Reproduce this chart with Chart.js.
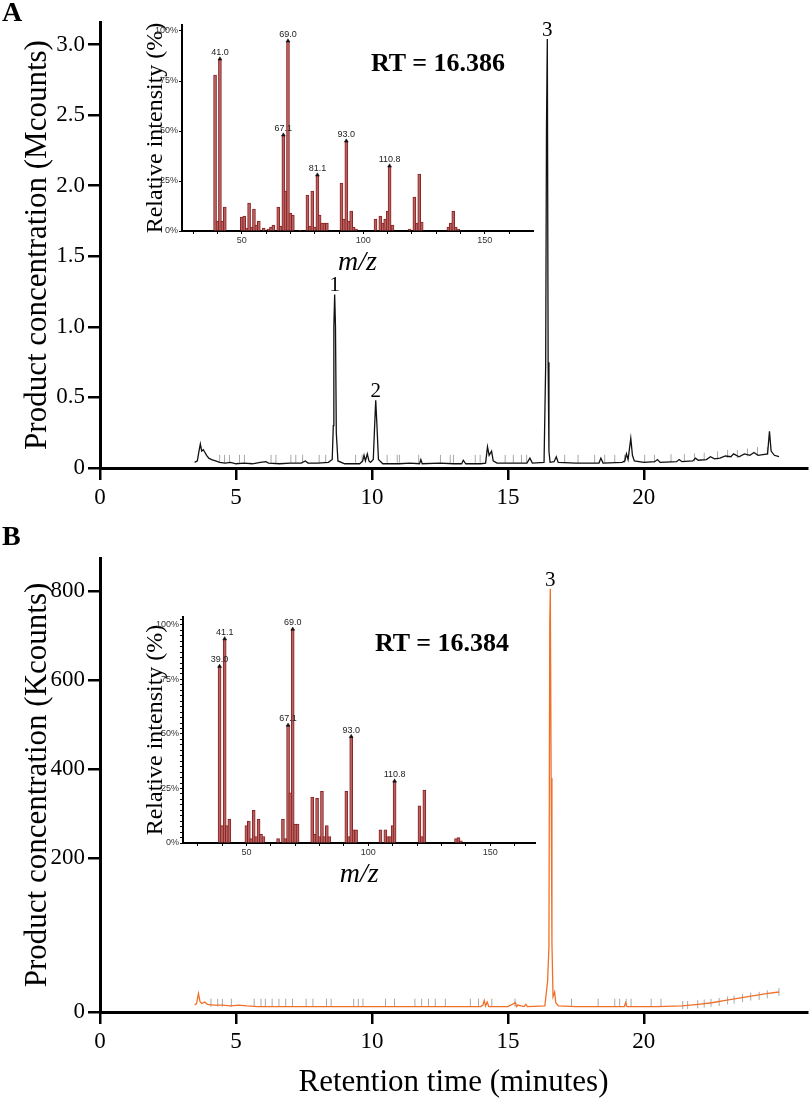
<!DOCTYPE html>
<html>
<head>
<meta charset="utf-8">
<script src="https://cdn.jsdelivr.net/npm/chart.js@4.4.1/dist/chart.umd.min.js"></script>
<style>
  body { margin: 0; background: #fff; }
  #fig { position: relative; width: 812px; height: 1104px; overflow: hidden; background: #fff; }
  #fig canvas { position: absolute; }
  .txt { position: absolute; font-family: "Liberation Serif", "Times New Roman", serif; color: #000; line-height: 1; white-space: nowrap; }
</style>
</head>
<body>
<div id="fig">
  <canvas id="mainA" width="812" height="520" style="left:0;top:0"></canvas>
  <canvas id="mainB" width="812" height="584" style="left:0;top:520px"></canvas>
  <canvas id="insetA" width="430" height="285" style="left:110px;top:0"></canvas>
  <canvas id="insetB" width="430" height="310" style="left:110px;top:590px"></canvas>
  <div class="txt" style="left:2px;top:-2px;font-size:28px;font-weight:bold">A</div>
  <div class="txt" style="left:2px;top:522px;font-size:28px;font-weight:bold">B</div>
  <div class="txt" style="left:371px;top:50px;font-size:26px;font-weight:bold">RT = 16.386</div>
  <div class="txt" style="left:375px;top:630px;font-size:26px;font-weight:bold">RT = 16.384</div>
</div>
<script>
// ---- chromatogram A (Mcounts) ----
const retTimeA = [3.48, 3.58, 3.64, 3.69, 3.74, 3.80, 3.86, 3.92, 4.00, 4.10, 4.25, 4.40, 4.60, 4.80, 5.00, 5.30, 5.60, 5.90, 6.10, 6.20, 6.60, 7.00, 7.40, 7.55, 7.65, 8.00, 8.40, 8.54, 8.58, 8.60, 8.63, 8.66, 8.69, 8.75, 9.00, 9.55, 9.66, 9.71, 9.76, 9.83, 9.89, 9.95, 10.05, 10.10, 10.14, 10.18, 10.24, 10.40, 11.00, 11.40, 11.75, 11.80, 11.85, 12.50, 13.00, 13.30, 13.36, 13.45, 14.00, 14.18, 14.25, 14.31, 14.40, 14.46, 14.60, 15.00, 15.70, 15.81, 15.90, 16.33, 16.39, 16.42, 16.45, 16.48, 16.51, 16.55, 16.70, 16.78, 16.85, 17.50, 18.35, 18.42, 18.50, 19.20, 19.30, 19.36, 19.42, 19.52, 19.58, 19.65, 20.00, 20.40, 20.50, 20.60, 21.20, 21.30, 21.40, 21.80, 21.90, 22.00, 22.30, 22.45, 22.60, 22.80, 23.00, 23.20, 23.30, 23.50, 23.70, 23.90, 24.05, 24.20, 24.55, 24.62, 24.68, 24.80, 24.97];
const mcountsA = [0.04, 0.05, 0.12, 0.17, 0.12, 0.13, 0.11, 0.09, 0.07, 0.06, 0.05, 0.04, 0.035, 0.04, 0.03, 0.035, 0.03, 0.04, 0.045, 0.035, 0.03, 0.035, 0.035, 0.05, 0.035, 0.035, 0.04, 0.06, 0.3, 1.0, 1.23, 1.0, 0.25, 0.05, 0.03, 0.03, 0.05, 0.09, 0.05, 0.1, 0.05, 0.04, 0.06, 0.3, 0.48, 0.32, 0.06, 0.03, 0.03, 0.035, 0.03, 0.06, 0.03, 0.035, 0.03, 0.03, 0.055, 0.03, 0.03, 0.035, 0.15, 0.09, 0.12, 0.05, 0.035, 0.035, 0.035, 0.07, 0.035, 0.04, 0.73, 2.42, 3.04, 0.75, 0.12, 0.04, 0.045, 0.08, 0.04, 0.035, 0.035, 0.07, 0.035, 0.04, 0.05, 0.1, 0.06, 0.21, 0.09, 0.05, 0.04, 0.045, 0.06, 0.04, 0.045, 0.06, 0.045, 0.05, 0.07, 0.055, 0.06, 0.08, 0.065, 0.07, 0.085, 0.08, 0.1, 0.08, 0.1, 0.09, 0.11, 0.09, 0.1, 0.26, 0.12, 0.09, 0.08, 0.08];
const markTimeA = [4.40, 4.58, 4.76, 5.13, 5.31, 6.29, 6.47, 7.02, 7.20, 7.45, 8.06, 8.30, 9.40, 9.64, 10.56, 10.93, 11.01, 11.72, 12.52, 12.88, 13.00, 13.80, 13.98, 14.90, 15.20, 15.50, 15.69, 17.09, 17.58, 18.19, 18.56, 18.93, 19.29, 20.03, 20.39, 21.00, 21.49, 21.86, 22.22, 22.71, 23.08, 23.44, 23.81, 24.18, 24.54];
const markLevelA = [0.065, 0.065, 0.065, 0.065, 0.065, 0.065, 0.065, 0.065, 0.065, 0.065, 0.065, 0.065, 0.065, 0.065, 0.065, 0.065, 0.065, 0.065, 0.065, 0.065, 0.065, 0.065, 0.065, 0.065, 0.065, 0.065, 0.065, 0.065, 0.065, 0.065, 0.065, 0.065, 0.065, 0.065, 0.065, 0.07, 0.07, 0.075, 0.08, 0.09, 0.1, 0.1, 0.11, 0.12, 0.12];
const peakTimeA = [8.63, 10.14, 16.45];
const peakTopA = [1.23, 0.48, 3.04];
const peakNameA = ["1", "2", "3"];

// ---- chromatogram B (Kcounts) ----
const retTimeB = [3.48, 3.55, 3.62, 3.68, 3.75, 3.85, 3.95, 4.20, 4.50, 4.80, 5.10, 5.40, 5.80, 6.50, 7.50, 8.50, 9.50, 10.50, 11.50, 12.50, 13.50, 14.00, 14.08, 14.13, 14.18, 14.24, 14.30, 15.00, 15.28, 15.32, 15.36, 15.60, 15.66, 15.72, 16.36, 16.46, 16.51, 16.54, 16.56, 16.59, 16.62, 16.66, 16.72, 16.76, 16.86, 17.50, 18.50, 19.28, 19.33, 19.38, 20.50, 21.40, 22.00, 22.50, 23.00, 23.50, 24.00, 24.50, 24.97];
const kcountsB = [9, 11, 24, 13, 11, 13, 10, 9, 9, 8, 9, 8, 7, 7, 7, 7, 7, 7, 7, 7, 7, 7, 9, 15, 8, 13, 7, 7, 12, 7, 9, 7, 10, 7, 8, 40, 84, 728, 805, 380, 90, 20, 26, 12, 8, 7, 7, 7, 12, 7, 7, 8, 10, 12, 15, 18, 21, 24, 26];
const markTimeB = [4.08, 4.33, 4.50, 4.83, 5.67, 5.92, 6.08, 6.33, 6.58, 6.83, 7.08, 7.58, 7.83, 8.33, 8.50, 9.33, 9.50, 9.67, 10.50, 10.83, 11.58, 11.83, 12.08, 12.33, 12.70, 13.62, 13.92, 14.41, 15.26, 17.34, 18.32, 18.93, 19.11, 19.35, 19.53, 20.27, 20.63, 21.43, 21.61, 21.98, 22.22, 22.47, 22.77, 23.08, 23.32, 23.63, 23.93, 24.24, 24.54, 24.97];
const markLevelB = [12, 12, 12, 12, 12, 12, 12, 12, 12, 12, 12, 12, 12, 12, 12, 12, 12, 12, 12, 12, 12, 12, 12, 12, 12, 12, 12, 12, 12, 12, 12, 12, 12, 12, 12, 12, 12, 9, 9, 10, 11, 12, 13, 15, 16, 18, 20, 21, 23, 26];
const peakTimeB = [16.56];
const peakTopB = [805];
const peakNameB = ["3"];

// ---- mass spectra (relative intensity %) ----
const mzA = [39, 40, 41, 42, 43, 50, 51, 52, 53, 54, 55, 56, 57, 59, 61, 62, 63, 65, 66, 67.1, 68, 69, 70, 71, 74, 77, 78, 79, 80, 81.1, 82, 83, 84, 85, 91, 92, 93, 94, 95, 96, 97, 105, 107, 108, 109, 110, 110.8, 112, 119, 121, 122, 123, 124, 135, 136, 137, 138, 139];
const pctA = [78, 5, 86, 5, 12, 7, 7.5, 1.5, 14, 2, 11, 3, 5, 1.5, 1, 2, 3, 12, 2.5, 48, 20, 95, 9, 8, 0.5, 18, 2.5, 20, 2, 28, 8, 4, 4, 4, 24, 6, 45, 5, 10, 2, 1, 6, 7.5, 4, 6, 10, 32.5, 3, 1, 17, 4, 28.5, 4.5, 2, 4, 10, 2, 1];
const tagMzA = [41.0, 67.1, 69.0, 81.1, 93.0, 110.8];
const tagPctA = [86, 48, 95, 28, 45, 32.5];
const tagTextA = ["41.0", "67.1", "69.0", "81.1", "93.0", "110.8"];

const mzB = [39, 40, 41.1, 42, 43, 50, 51, 52, 53, 54, 55, 56, 57, 63, 65, 66, 67.1, 68, 69, 70, 71, 77, 78, 79, 80, 81, 82, 83, 84, 91, 92, 93, 94, 95, 105, 107, 108, 109, 110, 110.8, 121, 122, 123, 136, 137, 138];
const pctB = [81, 8, 93.6, 8, 11, 8, 10, 2, 15, 3, 11, 4, 3, 2, 11, 2, 54, 23, 98, 8.7, 8.7, 21, 4, 20.5, 3, 23.7, 3, 8, 3, 23.7, 3, 48.8, 6, 6, 6, 6, 3, 3, 8, 28.4, 17, 3, 24.3, 2, 2.5, 1];
const tagMzB = [39.0, 41.1, 67.1, 69.0, 93.0, 110.8];
const tagPctB = [81, 93.6, 54, 98, 48.8, 28.4];
const tagTextB = ["39.0", "41.1", "67.1", "69.0", "93.0", "110.8"];

// ---- axes ----
const timeTicks = [0, 5, 10, 15, 20];
const mcountTicks = [0, 0.5, 1.0, 1.5, 2.0, 2.5, 3.0];
const kcountTicks = [0, 200, 400, 600, 800];
const mzLabels = [50, 100, 150];
const pctLabels = [0, 25, 50, 75, 100];

const SERIF = "'Liberation Serif', 'Times New Roman', serif";
const SANS = "'Liberation Sans', Arial, sans-serif";

// B's y axis is drawn with a longer 0-200 segment than the rest
const kBreak = 200;
const kBreakFrac = 0.339;

class BrokenLinearScale extends Chart.LinearScale {
  toDecimal(v) {
    if (v <= kBreak) return (v - this.min) / (kBreak - this.min) * kBreakFrac;
    return kBreakFrac + (v - kBreak) / (this.max - kBreak) * (1 - kBreakFrac);
  }
  getPixelForValue(v) {
    return v === null ? NaN : this.getPixelForDecimal(this.toDecimal(v));
  }
  getValueForPixel(p) {
    const d = this.getDecimalForPixel(p);
    if (d <= kBreakFrac) return this.min + d / kBreakFrac * (kBreak - this.min);
    return kBreak + (d - kBreakFrac) / (1 - kBreakFrac) * (this.max - kBreak);
  }
}
BrokenLinearScale.id = "brokenLinear";
BrokenLinearScale.defaults = {};
Chart.register(BrokenLinearScale);

function points(xs, ys) {
  return xs.map((x, i) => ({ x: x, y: ys[i] }));
}

// text above given data points, drawn through the chart's scales
function notesPlugin(xs, ys, texts, font, color, gap) {
  return {
    id: "notes",
    afterDatasetsDraw(chart) {
      const { ctx, scales } = chart;
      ctx.save();
      ctx.font = font;
      ctx.fillStyle = color;
      ctx.textAlign = "center";
      ctx.textBaseline = "alphabetic";
      xs.forEach((xv, i) => {
        ctx.fillText(texts[i], scales.x.getPixelForValue(xv), scales.y.getPixelForValue(ys[i]) - gap);
      });
      ctx.restore();
    }
  };
}

function fixedTicks(values) {
  return scale => { scale.ticks = values.map(v => ({ value: v })); };
}

function mainChart(canvasId, opts) {
  return new Chart(document.getElementById(canvasId), {
    type: "line",
    data: {
      datasets: [
        {
          data: points(opts.times, opts.values),
          borderColor: opts.color,
          borderWidth: 1.3,
          pointRadius: 0,
          tension: 0,
          order: 1
        },
        {
          data: points(opts.markTimes, opts.markLevels),
          showLine: false,
          pointStyle: "line",
          pointRotation: 90,
          pointRadius: opts.markRadius,
          pointBorderColor: "#a8a8a8",
          pointBorderWidth: 1,
          order: 2
        }
      ]
    },
    options: {
      responsive: false,
      animation: false,
      devicePixelRatio: 1,
      events: [],
      layout: { padding: { top: opts.padTop, right: 2, left: 0, bottom: 0 } },
      plugins: { legend: { display: false }, tooltip: { enabled: false } },
      scales: {
        x: {
          type: "linear",
          min: 0,
          max: 26.0,
          afterBuildTicks: fixedTicks(timeTicks),
          afterFit: s => { s.height = opts.xAxisHeight; },
          border: { display: true, color: "#000", width: 3 },
          grid: { drawOnChartArea: false, tickLength: 12, color: "#000", lineWidth: 2.5 },
          ticks: { color: "#000", padding: 4, maxRotation: 0, font: { family: SERIF, size: 23 } },
          title: {
            display: !!opts.xTitle,
            text: opts.xTitle || "",
            color: "#000",
            font: { family: SERIF, size: 31 },
            padding: { top: 0, bottom: 3 }
          }
        },
        y: {
          type: opts.yType,
          min: 0,
          max: opts.yMax,
          afterBuildTicks: fixedTicks(opts.yTicks),
          afterFit: s => { s.width = 100; },
          border: { display: true, color: "#000", width: 3 },
          grid: { drawOnChartArea: false, tickLength: 12, color: "#000", lineWidth: 2.5 },
          ticks: {
            color: "#000",
            padding: 3,
            font: { family: SERIF, size: 23 },
            callback: opts.yLabel
          },
          title: {
            display: true,
            text: opts.yTitle,
            color: "#000",
            font: { family: SERIF, size: 31 },
            padding: { top: 19, bottom: 0 }
          }
        }
      }
    },
    plugins: [notesPlugin(opts.peakTimes, opts.peakTops, opts.peakNames, "21px " + SERIF, "#000", 3)]
  });
}

function insetChart(canvasId, opts) {
  return new Chart(document.getElementById(canvasId), {
    type: "bar",
    data: {
      datasets: [
        {
          type: "bar",
          data: points(opts.mz, opts.pct),
          barThickness: 3,
          backgroundColor: "#b76262",
          borderColor: "#8c2323",
          borderWidth: 1,
          borderSkipped: "start",
          order: 2
        },
        {
          type: "line",
          data: points(opts.tagMz, opts.tagPct),
          showLine: false,
          pointStyle: "triangle",
          pointRadius: 2.2,
          pointBackgroundColor: "#111",
          pointBorderColor: "#111",
          pointBorderWidth: 0.5,
          order: 1
        }
      ]
    },
    options: {
      responsive: false,
      animation: false,
      devicePixelRatio: 1,
      events: [],
      layout: { padding: { top: opts.padTop, right: opts.padRight, left: 0, bottom: 0 } },
      plugins: { legend: { display: false }, tooltip: { enabled: false } },
      scales: {
        x: {
          type: "linear",
          offset: false,
          min: opts.mzMin,
          max: opts.mzMax,
          afterFit: s => { s.height = opts.xAxisHeight; },
          border: { display: true, color: "#000", width: 2 },
          grid: { offset: false, drawOnChartArea: false, tickLength: 3, color: "#000", lineWidth: 1 },
          ticks: {
            stepSize: 10,
            includeBounds: false,
            autoSkip: false,
            maxRotation: 0,
            padding: 1,
            color: "#333",
            font: { family: SANS, size: 9 },
            callback: v => (mzLabels.includes(v) ? String(v) : "")
          },
          title: {
            display: true,
            text: "m/z",
            color: "#000",
            font: { family: SERIF, size: 28, style: "italic" },
            padding: { top: 0, bottom: opts.mzTitlePad }
          }
        },
        y: {
          type: "linear",
          min: 0,
          max: opts.pctMax,
          afterFit: s => { s.width = opts.yAxisWidth; },
          border: { display: true, color: "#000", width: 2 },
          grid: { drawOnChartArea: false, tickLength: opts.pctTickLen, color: "#000", lineWidth: 1 },
          ticks: {
            stepSize: opts.pctStep,
            includeBounds: false,
            autoSkip: false,
            padding: 1,
            color: "#333",
            font: { family: SANS, size: 9 },
            callback: v => (pctLabels.includes(v) ? v + "%" : "")
          },
          title: {
            display: true,
            text: "Relative intensity (%)",
            color: "#000",
            font: { family: SERIF, size: 24 },
            padding: { top: 31, bottom: 0 }
          }
        }
      }
    },
    plugins: [notesPlugin(opts.tagMz, opts.tagPct, opts.tagText, "9px " + SANS, "#222", 4)]
  });
}

mainChart("mainA", {
  times: retTimeA, values: mcountsA, color: "#111",
  markTimes: markTimeA, markLevels: markLevelA, markRadius: 4,
  peakTimes: peakTimeA, peakTops: peakTopA, peakNames: peakNameA,
  yType: "linear", yMax: 3.16, yTicks: mcountTicks,
  yLabel: v => (v === 0 ? "0" : v.toFixed(1)),
  yTitle: "Product concentration (Mcounts)",
  padTop: 22, xAxisHeight: 52
});

mainChart("mainB", {
  times: retTimeB, values: kcountsB, color: "#f07028",
  markTimes: markTimeB, markLevels: markLevelB, markRadius: 4,
  peakTimes: peakTimeB, peakTops: peakTopB, peakNames: peakNameB,
  yType: "brokenLinear", yMax: 874, yTicks: kcountTicks,
  yLabel: v => String(v),
  yTitle: "Product concentration (Kcounts)",
  xTitle: "Retention time (minutes)",
  padTop: 38, xAxisHeight: 92
});

insetChart("insetA", {
  mz: mzA, pct: pctA, tagMz: tagMzA, tagPct: tagPctA, tagText: tagTextA,
  mzMin: 25.4, mzMax: 169.8, pctMax: 103, pctStep: 25, pctTickLen: 3,
  padTop: 25, padRight: 7, yAxisWidth: 72, xAxisHeight: 54, mzTitlePad: 6
});

insetChart("insetB", {
  mz: mzB, pct: pctB, tagMz: tagMzB, tagPct: tagPctB, tagText: tagTextB,
  mzMin: 24.0, mzMax: 168.6, pctMax: 103.6, pctStep: 2.5, pctTickLen: 3,
  padTop: 27, padRight: 2, yAxisWidth: 73, xAxisHeight: 57, mzTitlePad: 9
});
</script>
</body>
</html>
